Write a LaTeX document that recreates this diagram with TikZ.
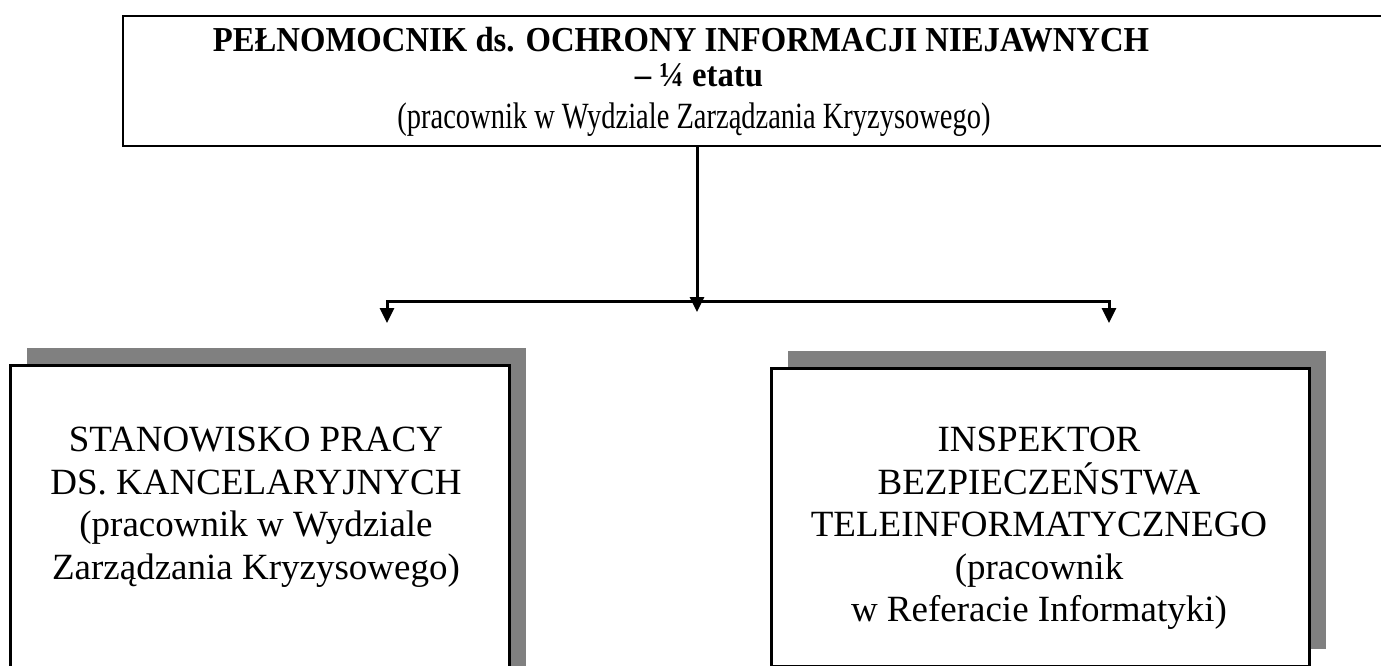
\documentclass[tikz,border=0pt]{standalone}
\usepackage{fontspec}
\setmainfont{Liberation Serif}
\newfontfamily\titlefont[FakeStretch=0.935, UprightFont={* Bold}]{Liberation Serif}
\newfontfamily\subfont[FakeStretch=0.77]{Liberation Serif}
\usetikzlibrary{arrows.meta,shadows}
\definecolor{shadowgray}{HTML}{808080}
\begin{document}
\begin{tikzpicture}[x=1pt,y=-1pt,
  box/.style={draw=black, line width=2.5pt, fill=white, rectangle, inner sep=0pt, anchor=north west,
     general shadow={fill=shadowgray, draw=none, shadow xshift=16.5pt, shadow yshift=17pt}},
  topbox/.style={draw=black, line width=2pt, rectangle, inner sep=0pt, anchor=north west},
  btxt/.style={font=\fontsize{37}{42.5}\selectfont, align=center, inner sep=0pt, anchor=north},
  ttxt/.style={inner sep=0pt, anchor=base},
  conn/.style={line width=3pt},
  tipstyle/.style={-{Triangle[length=15pt,width=14pt]}}
]
\useasboundingbox (0,0) rectangle (1381,666);
\clip (0,0) rectangle (1381,666);
% top box
\node[topbox, minimum width=1320pt, minimum height=130pt] (top) at (122,15) {};
\node[ttxt, font=\titlefont\fontsize{35}{40}\selectfont] (t1) at (681,52) {PEŁNOMOCNIK ds. OCHRONY INFORMACJI NIEJAWNYCH};
\node[ttxt, font=\titlefont\fontsize{35}{40}\selectfont] (t2) at (699,87) {– ¼ etatu};
\node[ttxt, font=\subfont\fontsize{37}{42}\selectfont] (t3) at (694,129) {(pracownik w Wydziale Zarządzania Kryzysowego)};
% bottom boxes
\node[box, minimum width=499pt, minimum height=340pt] (lbox) at (9,364) {};
\node[box, minimum width=538pt, minimum height=298pt] (rbox) at (770,367) {};
\node[btxt] (ltxt) at (256,427) {STANOWISKO PRACY\\DS. KANCELARYJNYCH\\(pracownik w Wydziale\\Zarządzania Kryzysowego)};
\node[btxt] (rtxt) at (1039,427) {INSPEKTOR\\BEZPIECZEŃSTWA\\TELEINFORMATYCZNEGO\\(pracownik\\w Referacie Informatyki)};
% connectors
\coordinate (mid) at (697,312);
\coordinate (hl) at (387,301);
\coordinate (hr) at (1109,301);
\coordinate (la) at (387,323);
\coordinate (ra) at (1109,323);
\draw[conn, tipstyle] (top.south -| mid) -- (mid);
\draw[conn, {Triangle[length=15pt,width=14pt]}-{Triangle[length=15pt,width=14pt]}] (la) -- (hl) -- (hr) -- (ra);
\end{tikzpicture}
\end{document}
